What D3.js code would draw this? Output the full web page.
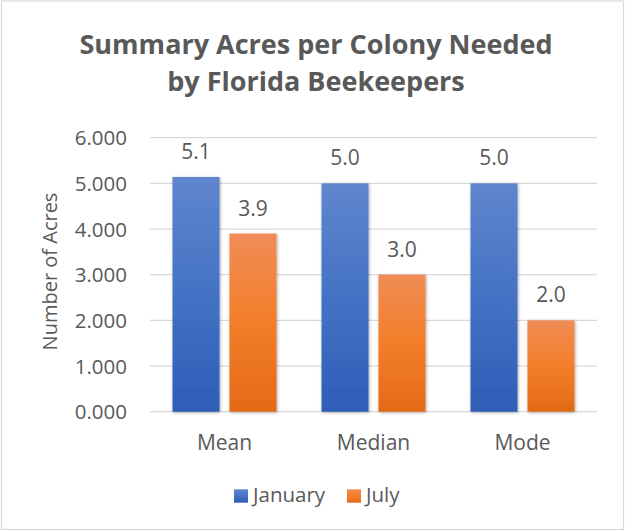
<!DOCTYPE html>
<html><head><meta charset="utf-8">
<script src="https://cdn.jsdelivr.net/npm/d3@7"></script>
<style>
html,body{margin:0;padding:0;background:#fff;}
svg{display:block;}
text{font-family:"Open Sans","Noto Sans",sans-serif;fill:#595959;}
</style></head>
<body>
<svg id="chart" width="625" height="531"></svg>
<script>
const categories = ["Mean", "Median", "Mode"];
const seriesNames = ["January", "July"];
const january = [5.14, 5.0, 5.0];
const july = [3.9, 3.0, 2.0];
const yTicks = [0, 1, 2, 3, 4, 5, 6];
const titleLines = ["Summary Acres per Colony Needed", "by Florida Beekeepers"];
const yTitle = "Number of Acres";

const svg = d3.select("#chart");
const W = 625, H = 531;
const plot = {left: 150, right: 597, top: 137.7, bottom: 411.7};
const FONT = '"Open Sans","Noto Sans",sans-serif';

// border
svg.append("rect").attr("x", 1.5).attr("y", 1).attr("width", W - 3).attr("height", H - 2.5)
  .attr("fill", "#fff").attr("stroke", "#d9d9d9").attr("stroke-width", 1.2);

const defs = svg.append("defs");
const gradDefs = [
  {id: "gBlue", stops: ["#5f86cd", "#4472c4", "#2f5db7"]},
  {id: "gOrange", stops: ["#f08c56", "#f37e29", "#e36a17"]}
];
gradDefs.forEach(g => {
  const lg = defs.append("linearGradient").attr("id", g.id)
    .attr("x1", 0).attr("y1", 0).attr("x2", 0).attr("y2", 1);
  g.stops.forEach((c, i) => lg.append("stop").attr("offset", (i / (g.stops.length - 1))).attr("stop-color", c));
});
const f = defs.append("filter").attr("id", "shadow").attr("x", "-20%").attr("y", "-10%").attr("width", "140%").attr("height", "120%");
f.append("feDropShadow").attr("dx", 0.8).attr("dy", 0.8).attr("stdDeviation", 1.4).attr("flood-color", "#000").attr("flood-opacity", 0.35);

const y = d3.scaleLinear().domain([0, 6]).range([plot.bottom, plot.top]);
const x0 = d3.scaleBand().domain(categories).range([plot.left, plot.right]).padding(0);
const x1 = d3.scaleBand().domain(seriesNames).range([0, x0.bandwidth()]).paddingInner(0.175).paddingOuter(0.395);

// gridlines
svg.append("g").selectAll("line").data(yTicks).join("line")
  .attr("x1", plot.left).attr("x2", plot.right)
  .attr("y1", d => y(d)).attr("y2", d => y(d))
  .attr("stroke", "#d9d9d9").attr("stroke-width", 1.3);

// y axis labels
const yAxis = d3.axisLeft(y).tickValues(yTicks).tickFormat(d3.format(".3f")).tickSize(0).tickPadding(0);
const gy = svg.append("g").attr("transform", `translate(127,0)`).call(yAxis);
gy.select(".domain").remove();
gy.selectAll("text").style("font-size", "20.5px").attr("fill", "#595959")
  .style("font-family", FONT).attr("dy", "0.35em");

// y title
svg.append("text").attr("transform", `translate(56.5,${271.5}) rotate(-90)`)
  .attr("text-anchor", "middle").style("font-size", "20px").text(yTitle);

// bars
const series = [january, july];
const grads = ["url(#gBlue)", "url(#gOrange)"];
const rows = [];
categories.forEach((c, i) => seriesNames.forEach((s, j) => rows.push({c, s, v: series[j][i], j})));

svg.append("g").selectAll("rect").data(rows).join("rect")
  .attr("x", d => x0(d.c) + x1(d.s)).attr("width", x1.bandwidth())
  .attr("y", d => y(d.v)).attr("height", d => y(0) - y(d.v))
  .attr("fill", d => grads[d.j]).attr("filter", "url(#shadow)");

// data labels
svg.append("g").selectAll("text").data(rows).join("text")
  .attr("x", d => x0(d.c) + x1(d.s) + x1.bandwidth() / 2)
  .attr("y", d => y(d.v) - 18)
  .attr("text-anchor", "middle").style("font-size", "21px")
  .text(d => d3.format(".1f")(d.v));

// x axis labels
const xAxis = d3.axisBottom(x0).tickSize(0).tickPadding(0);
const gx = svg.append("g").attr("transform", `translate(0,${plot.bottom})`).call(xAxis);
gx.select(".domain").remove();
gx.selectAll("text").attr("dy", null).attr("y", 38.5).style("font-size", "21px").attr("fill", "#595959")
  .style("font-family", FONT);

// title
const t = svg.append("text").attr("text-anchor", "middle").style("font-size", "27px").style("font-weight", "bold");
titleLines.forEach((l, i) => t.append("tspan").attr("x", 316).attr("y", 54.3 + i * 36.4).text(l));

// legend
const legend = svg.append("g");
const lx = [234, 347];
seriesNames.forEach((s, i) => {
  legend.append("rect").attr("x", lx[i]).attr("y", 489.3).attr("width", 14).attr("height", 13.4).attr("fill", grads[i]);
  legend.append("text").attr("x", lx[i] + 19).attr("y", 502).style("font-size", "20.5px").text(s);
});
</script>
</body></html>
